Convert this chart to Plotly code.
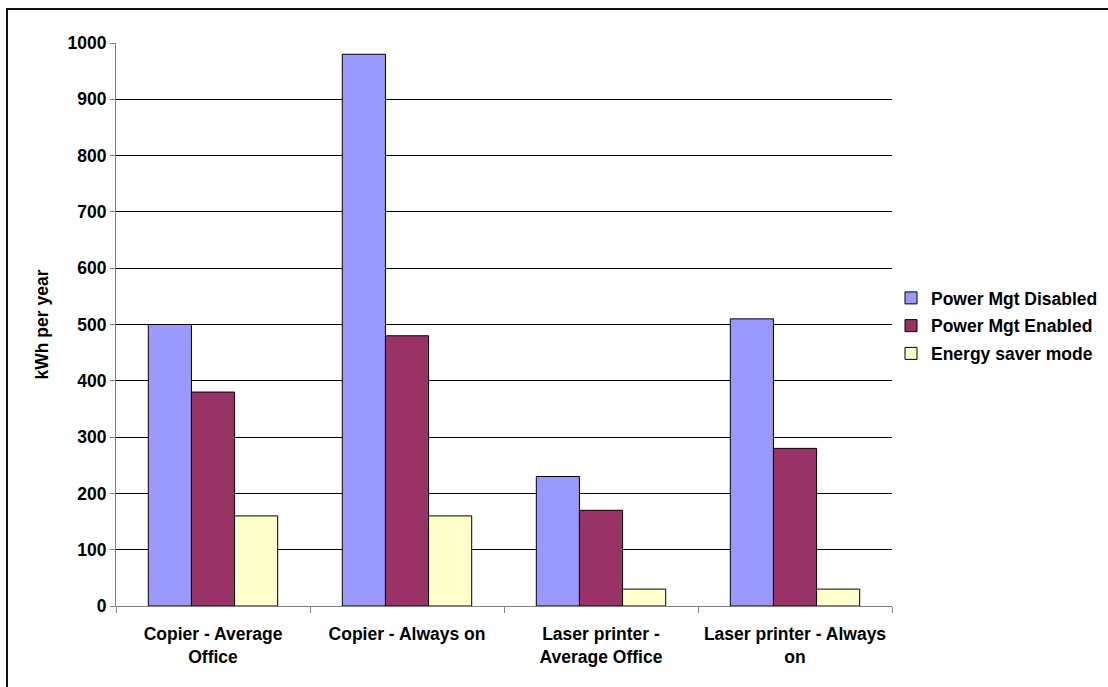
import plotly.graph_objects as go

# Annual energy use by device and operating mode
categories = [
    "Copier - Average<br>Office",
    "Copier - Always on",
    "Laser printer -<br>Average Office",
    "Laser printer - Always<br>on",
]
pm_disabled = [500, 980, 230, 510]
pm_enabled = [380, 480, 170, 280]
energy_saver = [160, 160, 30, 30]

series_names = ["Power Mgt Disabled", "Power Mgt Enabled", "Energy saver mode"]
series_values = [pm_disabled, pm_enabled, energy_saver]
series_colors = ["#9999FF", "#993366", "#FFFFCC"]

y_ticks = list(range(0, 1001, 100))

FONT = "Liberation Sans, Arial, sans-serif"
FS = 17.5
W, H = 1108, 687
ML, MR, MT, MB = 116, 216, 43, 81
PW, PH = W - ML - MR, H - MT - MB

fig = go.Figure()
for i, (name, vals, col) in enumerate(zip(series_names, series_values, series_colors)):
    fig.add_trace(go.Bar(
        x=categories, y=vals, name=name, legendgroup=f"g{i}",
        marker=dict(color=col, line=dict(color="#000000", width=1)),
    ))

# outer chart frame (open at right and bottom edges)
def px_x(p):
    return (p - ML) / PW

def px_y(p):
    return 1 - (p - MT) / PH

fig.add_shape(
    type="rect", xref="paper", yref="paper",
    x0=px_x(7), x1=px_x(W + 20), y0=px_y(9), y1=px_y(H + 20),
    line=dict(color="#111111", width=2), fillcolor="rgba(0,0,0,0)",
    layer="above",
)

bold = dict(family=FONT, size=FS, color="#000000", weight="bold")

fig.update_layout(
    width=W, height=H,
    margin=dict(l=ML, r=MR, t=MT, b=MB, pad=0, autoexpand=False),
    paper_bgcolor="white", plot_bgcolor="white",
    barmode="group", bargap=0.333, bargroupgap=0,
    font=dict(family=FONT, size=FS, color="#000000"),
    showlegend=True,
    legend=dict(
        x=px_x(891), xanchor="left", y=px_y(326), yanchor="middle",
        font=bold, bgcolor="rgba(0,0,0,0)", tracegroupgap=2,
    ),
    xaxis=dict(
        type="category",
        showgrid=False, zeroline=False,
        showline=True, linecolor="#808080", linewidth=1,
        ticks="outside", tickson="boundaries", ticklen=6, tickcolor="#808080",
        ticklabelstandoff=12,
        tickfont=bold,
    ),
    yaxis=dict(
        range=[0, 1000], tickvals=y_ticks,
        showgrid=True, gridcolor="#000000", gridwidth=1,
        zeroline=False,
        showline=True, linecolor="#808080", linewidth=1,
        ticks="outside", ticklen=5, tickcolor="#808080",
        tickfont=bold,
        title=dict(text="kWh per year", standoff=14, font=bold),
    ),
)

fig.write_html("out.html")
